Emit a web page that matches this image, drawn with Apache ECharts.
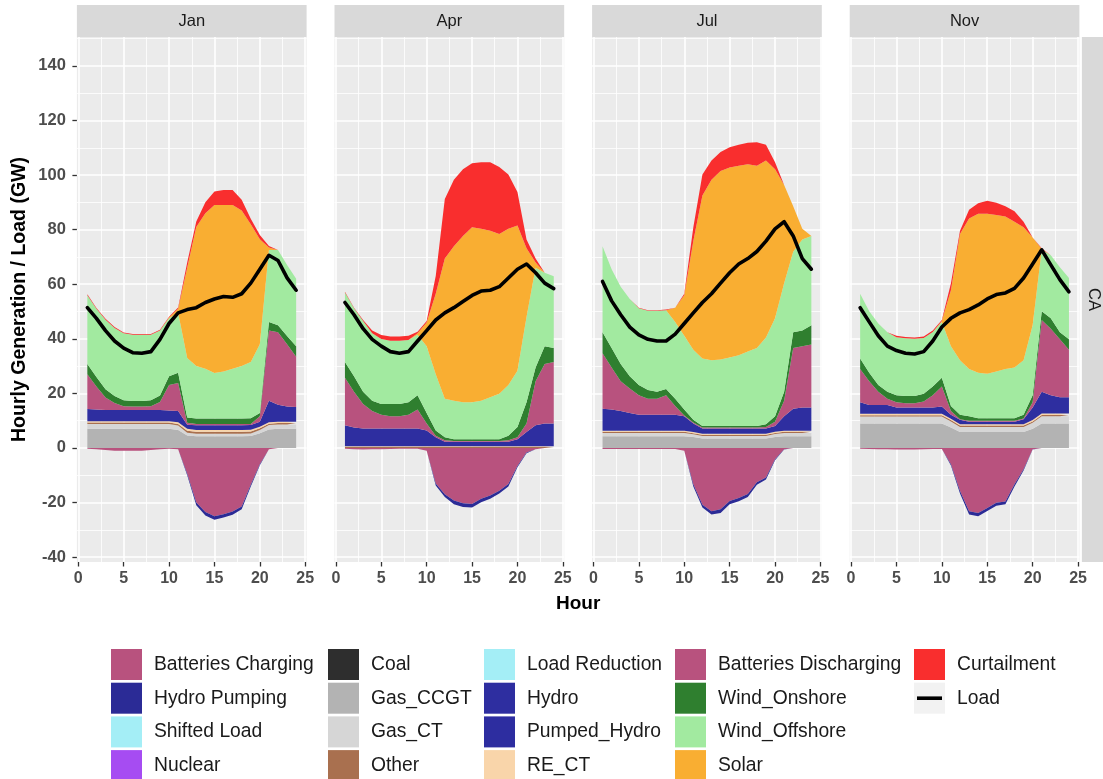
<!DOCTYPE html>
<html><head><meta charset="utf-8">
<script src="https://cdn.jsdelivr.net/npm/echarts@6/dist/echarts.min.js"></script>
<style>html,body{margin:0;padding:0;background:#fff}#chart{width:1103px;height:779px}</style>
</head><body><div id="chart"></div>
<script>
// ---------- tick labels / axes ----------
const hours = [1,2,3,4,5,6,7,8,9,10,11,12,13,14,15,16,17,18,19,20,21,22,23,24];
const xTicks = [0,5,10,15,20,25];
const xMinor = [2.5,7.5,12.5,17.5,22.5];
const yTicks = [-40,-20,0,20,40,60,80,100,120,140];
const yMinor = [-30,-10,10,30,50,70,90,110,130,150];
const months = ['Jan','Apr','Jul','Nov'];
const zeroSeries = [0,0,0,0,0,0,0,0,0,0,0,0,0,0,0,0,0,0,0,0,0,0,0,0];

// ---------- Jan ----------
const janGasCCGT = [7,7,7,7,7,7,7,7,7,7,6.6,4.6,4.3,4.3,4.3,4.3,4.3,4.3,4.4,5.4,6.8,7,7,7];
const janGasCT = [1.8,1.8,1.8,1.8,1.8,1.8,1.8,1.8,1.8,1.8,1.6,1.0,0.9,0.9,0.9,0.9,0.9,0.9,0.9,1.2,1.6,1.6,1.6,1.6];
const janOther = [0.5,0.5,0.5,0.5,0.5,0.5,0.5,0.5,0.5,0.5,0.6,0.7,0.7,0.7,0.7,0.7,0.7,0.7,0.7,0.6,0.5,0.5,0.5,0.5];
const janRECT = [0.5,0.5,0.5,0.5,0.5,0.5,0.5,0.5,0.5,0.5,0.6,0.7,0.7,0.7,0.7,0.7,0.7,0.7,0.7,0.6,0.5,0.5,0.5,0.5];
const janHydro = [4.5,4.3,4.1,4.1,4.1,4.1,4.1,4.1,4.1,3.9,4.1,1.5,1.7,1.7,1.7,1.7,1.7,1.7,1.7,1.8,7.9,6.2,5.6,5.4];
const janBattDis = [12.7,8.4,4.6,2.6,1.4,1.3,1.3,1.4,2.9,9.4,10.3,0.7,0.5,0.5,0.5,0.5,0.5,0.5,0.4,2.0,25.7,26.6,22.8,18.4];
const janWindOn = [3.8,3.5,3.0,2.5,2.2,2.0,2.0,2.2,2.4,3.2,3.8,2.0,2.0,2.0,2.0,2.0,2.0,2.0,2.1,1.2,3.2,2.6,3.0,3.9];
const janWindOff = [25.2,25,25.5,25,24.5,24.3,24.3,24,23.8,21.2,21.9,21.8,19.2,18.2,16.7,17.2,18.2,19.2,20.6,25.2,26.3,27.5,26,24.7];
const janSolar = [0,0,0,0,0,0,0,0,0,0.3,1.5,33,51,57,61.5,61,60,57,50.5,38.5,1,0,0,0];
const janCurtail = [0.3,0.3,0.3,0.3,0.3,0.3,0.3,0.3,0.3,0.3,0.5,2,2,4,5,5.5,5.5,4,2,1.5,0.5,0,0,0];
const janBattChg = [-0.3,-0.5,-0.8,-1,-1,-1,-1,-0.8,-0.5,-0.3,-0.5,-9.5,-20,-23.5,-25,-24.3,-23.3,-21.5,-13.5,-6,-0.5,0,0,0];
const janHydroPump = [0,0,0,0,0,0,0,0,0,0,0,-0.5,-1,-1.3,-1.3,-1.2,-1.2,-1,-0.6,-0.3,0,0,0,0];
const janLoad = [51.4,47.5,43,39.2,36.6,34.9,34.7,35.3,39.8,45.6,49.5,50.7,51.4,53.3,54.6,55.5,55.2,56.5,60.4,65.5,70.6,68.7,62.3,57.8];

// ---------- Apr ----------
const aprGasCCGT = [0,0,0,0,0,0,0,0,0,0,0,0,0,0,0,0,0,0,0,0,0,0,0,0];
const aprGasCT = [0,0,0,0,0,0,0,0,0,0,0,0,0,0,0,0,0,0,0,0,0,0,0,0];
const aprOther = [0.3,0.3,0.3,0.3,0.3,0.3,0.3,0.3,0.3,0.3,0.3,0.3,0.3,0.3,0.3,0.3,0.3,0.3,0.3,0.3,0.3,0.3,0.3,0.3];
const aprRECT = [0.3,0.3,0.3,0.3,0.3,0.3,0.3,0.3,0.3,0.3,0.3,0.3,0.3,0.3,0.3,0.3,0.3,0.3,0.3,0.3,0.3,0.3,0.3,0.3];
const aprHydro = [7.7,6.9,6.5,6.5,6.5,6.5,6.5,6.5,6.5,5.8,3.3,1.7,1.7,1.7,1.7,1.7,1.7,1.7,1.7,2.6,5.2,7.7,8.4,8.4];
const aprBattDis = [17.4,13.1,9,6.4,5.1,4.5,4.5,5.1,7,2.6,0.6,0.5,0.2,0.2,0.2,0.2,0.2,0.2,0.5,0.7,3.2,16.1,21.8,22.5];
const aprWindOn = [5.8,5.7,4.5,3.8,3.9,4.5,4.5,4.5,5.2,3.8,1.9,1.1,0.7,0.7,0.7,0.7,0.7,0.7,1.7,3.8,7.7,5.1,6.5,5.1];
const aprWindOff = [25.5,24.9,25.9,24.7,23.8,23.2,23.2,22.9,22.2,24.5,20.6,14.1,14.1,13.5,13.5,14.1,15.4,16.7,18.6,20.6,31.3,36.5,26.9,26.3];
const aprSolar = [0,0,0,0,0,0,0,0,0.5,8.7,29.5,51.4,56.6,61,64.2,63,61,58.5,57.2,53.2,25.2,2,0,0];
const aprCurtail = [0.2,0.2,0.4,1.0,1.5,1.5,1.5,1.5,0.6,0.5,6.5,21.8,24.4,24.4,23.4,24.4,25.1,24.6,19.9,12.3,3.2,1.4,0,0];
const aprBattChg = [-0.3,-0.5,-0.6,-0.5,-0.5,-0.4,-0.3,-0.3,-0.3,-1,-13,-17,-19.3,-20.3,-20.5,-18.6,-17.4,-15.7,-13.2,-6.6,-1.7,-0.5,0,0];
const aprHydroPump = [0,0,0,0,0,0,0,0,0,0,-0.8,-1,-1.3,-1.3,-1.3,-1.3,-1.2,-1,-0.9,-0.5,-0.2,0,0,0];
const aprLoad = [53.3,48.8,43.7,39.8,37.3,35.3,34.7,35.3,39.2,43,46.9,49.5,51.4,53.7,55.9,57.5,57.8,59.1,62.3,65.5,67.4,64.2,60.4,58.4];

// ---------- Jul ----------
const julGasCCGT = [4.3,4.3,4.3,4.3,4.3,4.3,4.3,4.3,4.3,4.3,4.0,3.5,3.5,3.5,3.5,3.5,3.5,3.5,3.5,4.0,4.3,4.3,4.3,4.3];
const julGasCT = [1.2,1.2,1.2,1.2,1.2,1.2,1.2,1.2,1.2,1.2,1.0,0.9,0.9,0.9,0.9,0.9,0.9,0.9,0.9,1.1,1.2,1.2,1.2,1.2];
const julOther = [0.4,0.4,0.4,0.4,0.4,0.4,0.4,0.4,0.4,0.4,0.4,0.4,0.4,0.4,0.4,0.4,0.4,0.4,0.4,0.4,0.4,0.4,0.4,0.4];
const julRECT = [0.4,0.4,0.4,0.4,0.4,0.4,0.4,0.4,0.4,0.4,0.4,0.4,0.4,0.4,0.4,0.4,0.4,0.4,0.4,0.4,0.4,0.4,0.4,0.4];
const julHydro = [8.1,7.8,7.2,6.5,5.9,5.9,5.9,5.9,5.9,5.3,3.2,1.9,1.9,1.9,1.9,1.9,1.9,1.9,1.9,2.1,5.3,8.1,8.5,8.5];
const julBattDis = [20.3,15.4,10.9,9,7.1,5.8,5.8,7.1,3.2,0.3,0.3,0.4,0.4,0.4,0.4,0.4,0.4,0.4,0.6,1.6,5.7,22.2,22.5,23.1];
const julWindOn = [7.7,7.1,6.4,4.5,3.8,3.2,2.6,2.3,2.6,2.2,1.0,0.5,0.5,0.5,0.5,0.5,0.5,0.5,1.0,2.0,3.3,5.8,5.7,7.1];
const julWindOff = [31.5,28.9,28.3,28.3,28.1,29.1,29.7,28.9,28.2,27,25.7,24.8,24.1,24.4,25.1,26,27.3,28.6,31.8,35.9,39.8,29.5,33.4,32.7];
const julSolar = [0,0,0,0,0,0,0,0,5.2,14.9,39.8,59.7,66.2,69.1,69.7,69.4,68.7,66.8,64.8,54.6,36,16.7,3.9,0];
const julCurtail = [0,0,0,0,0.2,0.2,0.2,0.2,0,0.5,5.1,7.7,7,7,7.4,7.7,7.8,8.6,5.8,2.6,0,0,0,0];
const julBattChg = [-0.4,-0.4,-0.4,-0.4,-0.4,-0.4,-0.4,-0.4,-0.4,-1,-13.3,-20.8,-23.2,-22.5,-19.4,-18.3,-16.9,-12.6,-10.8,-4.1,-0.5,0,0,0];
const julHydroPump = [0,0,0,0,0,0,0,0,0,0,-0.8,-1,-1.2,-1.3,-1.2,-1.2,-1.1,-0.9,-0.8,-0.4,-0.1,0,0,0];
const julLoad = [61,53.9,48.8,44.3,41.4,39.8,39.2,39.2,41.7,45.6,49.5,53.3,56.5,60.4,64.2,67.4,69.4,72,75.8,80.3,82.9,77.7,69.4,65.5];

// ---------- Nov ----------
const novGasCCGT = [9,9,9,9,9,9,9,9,9,9,7.5,5.8,5.8,5.8,5.8,5.8,5.8,5.8,5.8,7.0,9,9,9,9];
const novGasCT = [2.5,2.5,2.5,2.5,2.5,2.5,2.5,2.5,2.5,2.5,2.2,1.9,1.9,1.9,1.9,1.9,1.9,1.9,1.9,2.2,2.6,2.6,2.6,2.6];
const novOther = [0.5,0.5,0.5,0.5,0.5,0.5,0.5,0.5,0.5,0.5,0.5,0.5,0.5,0.5,0.5,0.5,0.5,0.5,0.5,0.5,0.5,0.5,0.5,0.5];
const novRECT = [0.5,0.5,0.5,0.5,0.5,0.5,0.5,0.5,0.5,0.5,0.5,0.5,0.5,0.5,0.5,0.5,0.5,0.5,0.5,0.5,0.5,0.5,0.5,0.5];
const novHydro = [4.2,3.2,3.2,3.2,2.3,2.3,2.3,2.3,2.3,2.7,1.5,1.6,0.9,0.9,0.9,0.9,0.9,0.9,1.8,4.6,8.0,6.7,6.0,6.0];
const novBattDis = [12.2,8.7,4.9,2.3,1.9,1.6,1.6,2.2,4.5,7.3,1.3,0.2,0.4,0.4,0.4,0.4,0.4,0.4,0.3,1.9,26.3,24.4,21.2,17.4];
const novWindOn = [3.9,3.2,2.5,2.6,2.6,2.6,2.6,2.9,3.2,3.2,1.9,1.7,1.6,0.9,0.9,0.9,0.9,0.9,1.4,2.6,3.2,3.8,2.6,3.8];
const novWindOff = [23.7,22.5,22.5,21.8,21.3,21.2,21,20.4,20,20.5,21.9,19.9,17.3,16.7,16.3,17.1,18,18.6,19.9,25.7,22.5,23.1,23.8,22.5];
const novSolar = [0,0,0,0,0,0,0,0,0,0.3,20.5,46.3,55.2,58.2,58.6,57.4,55.9,53.4,48.8,32.1,0.3,0,0,0];
const novCurtail = [0,0,0,0,0.5,0.5,0.5,0.5,0.5,0.4,2.6,1.2,3.2,3.9,4.8,4.5,3.8,3.8,2,0,0.3,0,0,0];
const novBattChg = [-0.3,-0.4,-0.5,-0.5,-0.6,-0.6,-0.6,-0.5,-0.4,-0.4,-6,-15.8,-23.2,-23.8,-22,-20.1,-19.6,-13.3,-7.8,-0.5,0,0,0,0];
const novHydroPump = [0,0,0,0,0,0,0,0,0,0,-0.4,-0.9,-1.2,-1.2,-1.1,-1.1,-1,-0.8,-0.5,-0.1,0,0,0,0];
const novLoad = [51.4,46.2,41.1,37.3,35.7,34.7,34.4,35.3,39.2,44.3,47.5,49.5,50.7,52.4,54.6,56.2,56.8,58.5,62.3,67.4,72.6,67.1,61.7,57.2];

// ---------- assemble ----------
const monthData = [
  {gasCCGT:janGasCCGT, gasCT:janGasCT, other:janOther, rect:janRECT, hydro:janHydro, battDis:janBattDis, windOn:janWindOn, windOff:janWindOff, solar:janSolar, curtail:janCurtail, battChg:janBattChg, hydroPump:janHydroPump, load:janLoad},
  {gasCCGT:aprGasCCGT, gasCT:aprGasCT, other:aprOther, rect:aprRECT, hydro:aprHydro, battDis:aprBattDis, windOn:aprWindOn, windOff:aprWindOff, solar:aprSolar, curtail:aprCurtail, battChg:aprBattChg, hydroPump:aprHydroPump, load:aprLoad},
  {gasCCGT:julGasCCGT, gasCT:julGasCT, other:julOther, rect:julRECT, hydro:julHydro, battDis:julBattDis, windOn:julWindOn, windOff:julWindOff, solar:julSolar, curtail:julCurtail, battChg:julBattChg, hydroPump:julHydroPump, load:julLoad},
  {gasCCGT:novGasCCGT, gasCT:novGasCT, other:novOther, rect:novRECT, hydro:novHydro, battDis:novBattDis, windOn:novWindOn, windOff:novWindOff, solar:novSolar, curtail:novCurtail, battChg:novBattChg, hydroPump:novHydroPump, load:novLoad}
];

const colors = {
  'Batteries Charging':'#B8527E','Hydro Pumping':'#2B2B96','Shifted Load':'#A4EEF6','Nuclear':'#A64CF2',
  'Coal':'#2E2E2E','Gas_CCGT':'#B3B3B3','Gas_CT':'#D6D6D6','Other':'#A9704F',
  'Load Reduction':'#A4EEF6','Hydro':'#2E2EA0','Pumped_Hydro':'#2D2DA0','RE_CT':'#F9D5AA',
  'Batteries Discharging':'#B8527E','Wind_Onshore':'#2F7F2F','Wind_Offshore':'#A2EAA0','Solar':'#F9AE32',
  'Curtailment':'#F92E2E','Load':'#000000'
};

// positive stack bottom -> top
const posLayers = [
  ['Coal', null], ['Nuclear', null], ['Gas_CCGT','gasCCGT'], ['Gas_CT','gasCT'], ['Other','other'], ['RE_CT','rect'],
  ['Load Reduction', null], ['Shifted Load', null], ['Hydro','hydro'], ['Pumped_Hydro', null],
  ['Batteries Discharging','battDis'], ['Wind_Onshore','windOn'], ['Wind_Offshore','windOff'], ['Solar','solar'], ['Curtailment','curtail']
];
const negLayers = [['Batteries Charging','battChg'], ['Hydro Pumping','hydroPump']];

const FONT = 'Liberation Sans, Arial, sans-serif';
const P_LEFT = 76.9, P_STEP = 257.6, P_W = 229.7, P_TOP = 37, P_H = 525;
const X_MIN = -0.15, X_MAX = 25.15, Y_MIN = -41.8, Y_MAX = 150.6;

const grids = [], xAxes = [], yAxes = [], series = [], graphics = [];
months.forEach((m, i) => {
  const gl = P_LEFT + P_STEP * i;
  grids.push({left: gl, top: P_TOP, width: P_W, height: P_H, show: true, backgroundColor: '#EBEBEB', borderWidth: 0});
  xAxes.push({type:'value', gridIndex:i, min:X_MIN, max:X_MAX, position:'bottom',
    axisLine:{show:false, onZero:false},
    axisTick:{show:true, customValues:xTicks, length:4.5, lineStyle:{color:'#333', width:1.3}},
    axisLabel:{customValues:xTicks, fontSize:16, fontWeight:'bold', color:'#4D4D4D', margin:9, fontFamily:FONT},
    splitLine:{show:true, lineStyle:{color:'#FFFFFF', width:1.6}}});
  xAxes.push({type:'value', gridIndex:i, min:X_MIN, max:X_MAX, position:'top',
    axisLine:{show:false, onZero:false}, axisTick:{show:false, customValues:xMinor}, axisLabel:{show:false, customValues:xMinor},
    splitLine:{show:true, lineStyle:{color:'#FFFFFF', width:0.8}}});
  yAxes.push({type:'value', gridIndex:i, min:Y_MIN, max:Y_MAX, position:'left',
    axisLine:{show:false, onZero:false},
    axisTick:{show:i===0, customValues:yTicks, length:4.5, lineStyle:{color:'#333', width:1.3}},
    axisLabel:{show:i===0, customValues:yTicks, fontSize:16.5, fontWeight:'bold', color:'#4D4D4D', margin:11, fontFamily:FONT},
    splitLine:{show:true, lineStyle:{color:'#FFFFFF', width:1.6}},
    name: i===0 ? 'Hourly Generation / Load (GW)' : '', nameLocation:'middle', nameGap:47,
    nameTextStyle:{fontSize:19.5, fontWeight:'bold', color:'#000', fontFamily:FONT}});
  yAxes.push({type:'value', gridIndex:i, min:Y_MIN, max:Y_MAX, position:'right',
    axisLine:{show:false, onZero:false}, axisTick:{show:false, customValues:yMinor}, axisLabel:{show:false, customValues:yMinor},
    splitLine:{show:true, lineStyle:{color:'#FFFFFF', width:0.8}}});

  const d = monthData[i];
  // data as [value, hour] so the stacked dimension is the y (value) dimension
  const mk = (name, key, stack) => ({
    type:'line', name, xAxisIndex:2*i, yAxisIndex:2*i, stack: stack + i, stackStrategy:'samesign',
    data: hours.map((h, k) => [(key ? d[key] : zeroSeries)[k], h]),
    encode:{x:1, y:0},
    symbol:'none', showSymbol:false, silent:true, z:2,
    lineStyle:{width:0}, itemStyle:{color:colors[name]},
    areaStyle:{color:colors[name], opacity:1}, emphasis:{disabled:true}
  });
  posLayers.forEach(([name, key]) => series.push(mk(name, key, 'pos')));
  negLayers.forEach(([name, key]) => series.push(mk(name, key, 'neg')));
  series.push({type:'line', name:'Load', xAxisIndex:2*i, yAxisIndex:2*i,
    data: hours.map((h, k) => [h, d.load[k]]), symbol:'none', showSymbol:false, silent:true, z:5,
    lineStyle:{color:'#000', width:3.6, join:'round', cap:'round'}, itemStyle:{color:'#000'}, emphasis:{disabled:true}});

  // facet strip
  graphics.push({type:'rect', shape:{x:gl, y:5, width:P_W, height:32}, style:{fill:'#D9D9D9'}, z:0, silent:true});
  graphics.push({type:'text', x:gl + P_W/2, y:21, style:{text:m, fontSize:16.5, fontFamily:FONT, fill:'#1A1A1A', align:'center', verticalAlign:'middle'}, z:1, silent:true});
});

// right strip
const rightStripX = P_LEFT + P_STEP * 3 + P_W + 2.5;
graphics.push({type:'rect', shape:{x:rightStripX, y:P_TOP, width:30, height:P_H}, style:{fill:'#D9D9D9'}, z:0, silent:true});
graphics.push({type:'text', x:rightStripX + 11.5, y:P_TOP + P_H/2, rotation:-Math.PI/2, style:{text:'CA', fontSize:16.5, fontFamily:FONT, fill:'#1A1A1A', align:'center', verticalAlign:'middle'}, z:1, silent:true});
// x axis title
graphics.push({type:'text', x:P_LEFT + (P_STEP*3 + P_W)/2, y:604, style:{text:'Hour', fontSize:19, fontWeight:'bold', fontFamily:FONT, fill:'#000', align:'center', verticalAlign:'middle'}, silent:true});

// legend
const legendCols = [
  ['Batteries Charging','Hydro Pumping','Shifted Load','Nuclear'],
  ['Coal','Gas_CCGT','Gas_CT','Other'],
  ['Load Reduction','Hydro','Pumped_Hydro','RE_CT'],
  ['Batteries Discharging','Wind_Onshore','Wind_Offshore','Solar'],
  ['Curtailment','Load']
];
const legendLeft = [111, 328, 484, 675, 914];
const LEG_TOP = 649, KEY = 31, KEY_GAP = 2.7;
const loadIcon = 'path://M0,0M31,31M3,13.7L28,13.7L28,17.3L3,17.3Z';
const legends = legendCols.map((names, c) => ({
  orient:'vertical', left:legendLeft[c], top:LEG_TOP, height:140, padding:0, itemWidth:KEY, itemHeight:KEY, itemGap:KEY_GAP,
  selectedMode:false, data:names.map(n => ({name:n, icon: n === 'Load' ? loadIcon : 'rect'})),
  itemStyle:{borderWidth:0},
  textStyle:{fontSize:19.3, color:'#1A1A1A', fontFamily:FONT, padding:[0,0,0,7]}
}));
graphics.push({type:'rect', shape:{x:legendLeft[4], y:LEG_TOP + KEY + KEY_GAP, width:KEY, height:KEY}, style:{fill:'#F2F2F2'}, z:1, silent:true});

const chart = echarts.init(document.getElementById('chart'), null, {renderer:'canvas'});
chart.setOption({
  animation:false,
  backgroundColor:'#FFFFFF',
  grid:grids, xAxis:xAxes, yAxis:yAxes, series:series,
  legend:legends, graphic:graphics
});
</script></body></html>
